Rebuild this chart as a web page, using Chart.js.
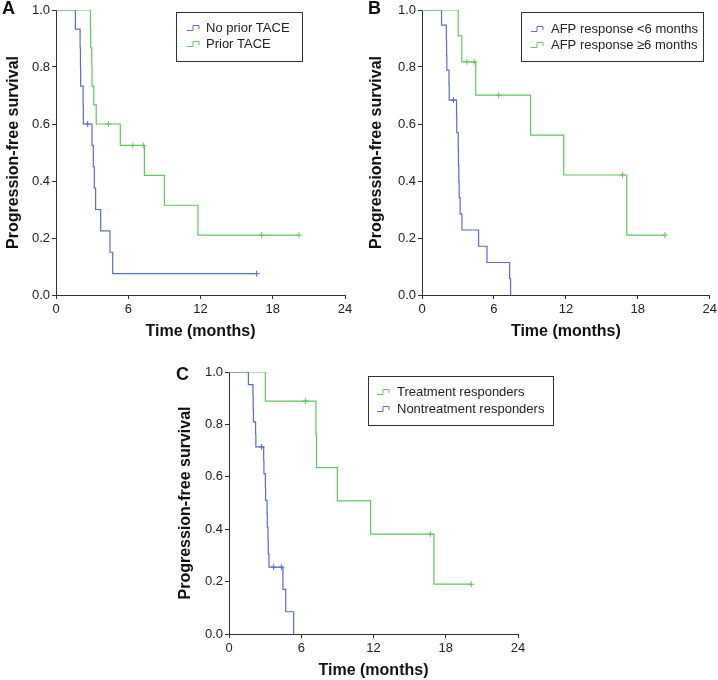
<!DOCTYPE html>
<html>
<head>
<meta charset="utf-8">
<script src="https://cdn.jsdelivr.net/npm/chart.js@4.4.0/dist/chart.umd.min.js"></script>
<style>
  html, body { margin: 0; padding: 0; background: #fff; overflow: hidden; }
  #page { position: relative; width: 718px; height: 680px; }
  canvas { position: absolute; }
</style>
</head>
<body>
<div id="page">
  <canvas id="chartA" width="359" height="345" style="left:0;top:0"></canvas>
  <canvas id="chartB" width="362" height="345" style="left:358px;top:0"></canvas>
  <canvas id="chartC" width="400" height="340" style="left:170px;top:340px"></canvas>
</div>
<script>
// axis ticks shared by all three panels
const timeTicks = [0, 6, 12, 18, 24];
const survivalTicks = [0, 0.2, 0.4, 0.6, 0.8, 1.0];

// Panel A - prior TACE
const legendA = ['No prior TACE', 'Prior TACE'];
const noTaceTimes = [0, 1.61, 2.0, 2.03, 2.05, 2.25, 2.27, 2.99, 3.10, 3.18, 3.29, 3.71, 4.48, 4.71, 16.66];
const noTaceSurv = [1, 0.933, 0.867, 0.8, 0.733, 0.667, 0.6, 0.525, 0.45, 0.375, 0.3, 0.225, 0.15, 0.075, 0.075];
const noTaceCensorTimes = [2.63, 16.66];
const noTaceCensorSurv = [0.6, 0.075];
const taceTimes = [0, 2.86, 2.88, 2.97, 2.99, 3.14, 3.34, 5.34, 7.34, 9.0, 11.79, 20.18];
const taceSurv = [1, 0.933, 0.867, 0.8, 0.733, 0.667, 0.6, 0.525, 0.42, 0.315, 0.21, 0.21];
const taceCensorTimes = [4.37, 6.37, 7.25, 17.08, 20.18];
const taceCensorSurv = [0.6, 0.525, 0.525, 0.21, 0.21];

// Panel B - AFP response
const legendB = ['AFP response <6 months', 'AFP response \u22656 months'];
const afpShortTimes = [0, 1.63, 2.03, 2.05, 2.07, 2.25, 2.27, 2.88, 2.90, 3.02, 3.04, 3.07, 3.10, 3.18, 3.33, 4.72, 5.42, 7.31, 7.39];
const afpShortSurv = [1, 0.947, 0.895, 0.842, 0.789, 0.737, 0.684, 0.627, 0.570, 0.513, 0.456, 0.399, 0.342, 0.285, 0.228, 0.171, 0.114, 0.057, 0];
const afpShortCensorTimes = [2.63];
const afpShortCensorSurv = [0.684];
const afpLongTimes = [0, 3.02, 3.32, 4.48, 9.05, 11.82, 17.08, 20.26];
const afpLongSurv = [1, 0.909, 0.818, 0.701, 0.561, 0.421, 0.21, 0.21];
const afpLongCensorTimes = [3.74, 4.35, 6.39, 16.72, 20.26];
const afpLongCensorSurv = [0.818, 0.818, 0.701, 0.421, 0.21];

// Panel C - treatment response
const legendC = ['Treatment responders', 'Nontreatment responders'];
const respTimes = [0, 3.02, 7.22, 7.27, 9.0, 11.76, 17.02, 20.12];
const respSurv = [1, 0.889, 0.762, 0.635, 0.508, 0.381, 0.19, 0.19];
const respCensorTimes = [6.34, 16.72, 20.12];
const respCensorSurv = [0.889, 0.381, 0.19];
const nonRespTimes = [0, 1.61, 1.99, 2.01, 2.03, 2.21, 2.23, 2.88, 2.90, 3.02, 3.04, 3.16, 3.18, 3.24, 3.26, 3.32, 4.48, 4.71, 5.37];
const nonRespSurv = [1, 0.952, 0.905, 0.857, 0.81, 0.762, 0.714, 0.663, 0.612, 0.561, 0.51, 0.459, 0.408, 0.357, 0.306, 0.255, 0.17, 0.085, 0];
const nonRespCensorTimes = [2.71, 3.71, 4.35];
const nonRespCensorSurv = [0.714, 0.255, 0.255];

const BLUE = '#5b6dbd';
const GREEN = '#62c462';
const FONT = '"Liberation Sans", Arial, Helvetica, sans-serif';

Chart.defaults.font.family = FONT;
Chart.defaults.color = '#222';

function toPoints(times, values) {
    return times.map((t, i) => ({ x: t, y: values[i] }));
}

function kmLine(times, values, color) {
    return {
        data: toPoints(times, values),
        borderColor: color,
        borderWidth: 1.2,
        stepped: true,
        pointRadius: 0,
        fill: false,
    };
}

function censorMarks(times, values, color) {
    return {
        data: toPoints(times, values),
        showLine: false,
        pointStyle: 'cross',
        pointRadius: 3,
        borderColor: color,
        borderWidth: 1,
    };
}

function drawStepIcon(ctx, x, y, color) {
    ctx.strokeStyle = color;
    ctx.lineWidth = 1;
    ctx.beginPath();
    ctx.moveTo(x, y + 2.5);
    ctx.lineTo(x + 6, y + 2.5);
    ctx.lineTo(x + 6, y - 2.5);
    ctx.lineTo(x + 12, y - 2.5);
    ctx.lineTo(x + 12, y + 1);
    ctx.stroke();
}

const boxLegend = {
    id: 'boxLegend',
    afterDraw(chart, args, opts) {
        const ctx = chart.ctx;
        const b = opts.box;
        ctx.save();
        ctx.strokeStyle = '#333';
        ctx.lineWidth = 1;
        ctx.strokeRect(b.x + 0.5, b.y + 0.5, b.w, b.h);
        ctx.font = '13px ' + FONT;
        ctx.textBaseline = 'middle';
        opts.items.forEach((item, i) => {
            const y = b.y + opts.rowY[i];
            drawStepIcon(ctx, b.x + opts.iconX, y, item.color);
            ctx.fillStyle = '#222';
            ctx.fillText(item.text, b.x + opts.textX, y);
        });
        ctx.restore();
    }
};

const panelLetter = {
    id: 'panelLetter',
    afterDraw(chart, args, opts) {
        const ctx = chart.ctx;
        ctx.save();
        ctx.font = 'bold 18px ' + FONT;
        ctx.fillStyle = '#111';
        ctx.textBaseline = 'alphabetic';
        ctx.fillText(opts.text, opts.x, opts.y);
        ctx.restore();
    }
};

function makePanel(id, cfg) {
    const ctx = document.getElementById(id).getContext('2d');
    return new Chart(ctx, {
        type: 'line',
        data: { datasets: cfg.datasets },
        options: {
            responsive: false,
            animation: false,
            layout: { padding: cfg.padding },
            scales: {
                x: {
                    type: 'linear',
                    min: 0,
                    max: 24,
                    afterBuildTicks: (s) => { s.ticks = timeTicks.map(v => ({ value: v })); },
                    afterFit: (s) => { s.height = cfg.xHeight; },
                    ticks: { font: { size: 13 }, color: '#222', padding: 3, maxRotation: 0, autoSkip: false },
                    grid: { drawOnChartArea: false, drawTicks: true, tickLength: 4, color: '#333' },
                    border: { display: true, color: '#333', width: 1 },
                    title: {
                        display: true,
                        text: 'Time (months)',
                        color: '#111',
                        font: { size: 16, weight: 'bold' },
                        padding: { top: 0, bottom: 0 },
                    },
                },
                y: {
                    min: 0,
                    max: 1,
                    afterBuildTicks: (s) => { s.ticks = survivalTicks.map(v => ({ value: v })); },
                    afterFit: (s) => { s.width = cfg.yWidth; },
                    ticks: {
                        font: { size: 13 },
                        color: '#222',
                        padding: 2,
                        callback: (v) => Number(v).toFixed(1),
                    },
                    grid: { drawOnChartArea: false, drawTicks: true, tickLength: 4, color: '#333' },
                    border: { display: true, color: '#333', width: 1 },
                    title: {
                        display: true,
                        text: 'Progression-free survival',
                        color: '#111',
                        font: { size: 16, weight: 'bold' },
                        padding: { top: cfg.yTitlePad, bottom: 0 },
                    },
                },
            },
            plugins: {
                legend: { display: false },
                tooltip: { enabled: false },
                boxLegend: cfg.legend,
                panelLetter: cfg.letter,
            },
        },
        plugins: [boxLegend, panelLetter],
    });
}

makePanel('chartA', {
    datasets: [
        censorMarks(taceCensorTimes, taceCensorSurv, GREEN),
        censorMarks(noTaceCensorTimes, noTaceCensorSurv, BLUE),
        kmLine(taceTimes, taceSurv, GREEN),
        kmLine(noTaceTimes, noTaceSurv, BLUE),
    ],
    padding: { left: 0, right: 14, top: 10, bottom: 4 },
    xHeight: 46,
    yWidth: 56,
    yTitlePad: 4,
    letter: { text: 'A', x: 2, y: 13.5 },
    legend: {
        box: { x: 176, y: 12, w: 126, h: 49 },
        iconX: 11, textX: 30, rowY: [16, 32],
        items: [{ text: legendA[0], color: BLUE }, { text: legendA[1], color: GREEN }],
    },
});

makePanel('chartB', {
    datasets: [
        censorMarks(afpLongCensorTimes, afpLongCensorSurv, GREEN),
        censorMarks(afpShortCensorTimes, afpShortCensorSurv, BLUE),
        kmLine(afpLongTimes, afpLongSurv, GREEN),
        kmLine(afpShortTimes, afpShortSurv, BLUE),
    ],
    padding: { left: 0, right: 8, top: 10, bottom: 4 },
    xHeight: 46,
    yWidth: 64,
    yTitlePad: 8.7,
    letter: { text: 'B', x: 10, y: 13.5 },
    legend: {
        box: { x: 163, y: 12, w: 182, h: 49 },
        iconX: 10, textX: 30, rowY: [17, 33],
        items: [{ text: legendB[0], color: BLUE }, { text: legendB[1], color: GREEN }],
    },
});

makePanel('chartC', {
    datasets: [
        censorMarks(nonRespCensorTimes, nonRespCensorSurv, BLUE),
        censorMarks(respCensorTimes, respCensorSurv, GREEN),
        kmLine(nonRespTimes, nonRespSurv, BLUE),
        kmLine(respTimes, respSurv, GREEN),
    ],
    padding: { left: 0, right: 52, top: 32, bottom: 0 },
    xHeight: 46,
    yWidth: 59,
    yTitlePad: 6.4,
    letter: { text: 'C', x: 6, y: 40 },
    legend: {
        box: { x: 198, y: 36, w: 185, h: 49 },
        iconX: 9, textX: 29, rowY: [16, 33],
        items: [{ text: legendC[0], color: GREEN }, { text: legendC[1], color: BLUE }],
    },
});
</script>
</body>
</html>
